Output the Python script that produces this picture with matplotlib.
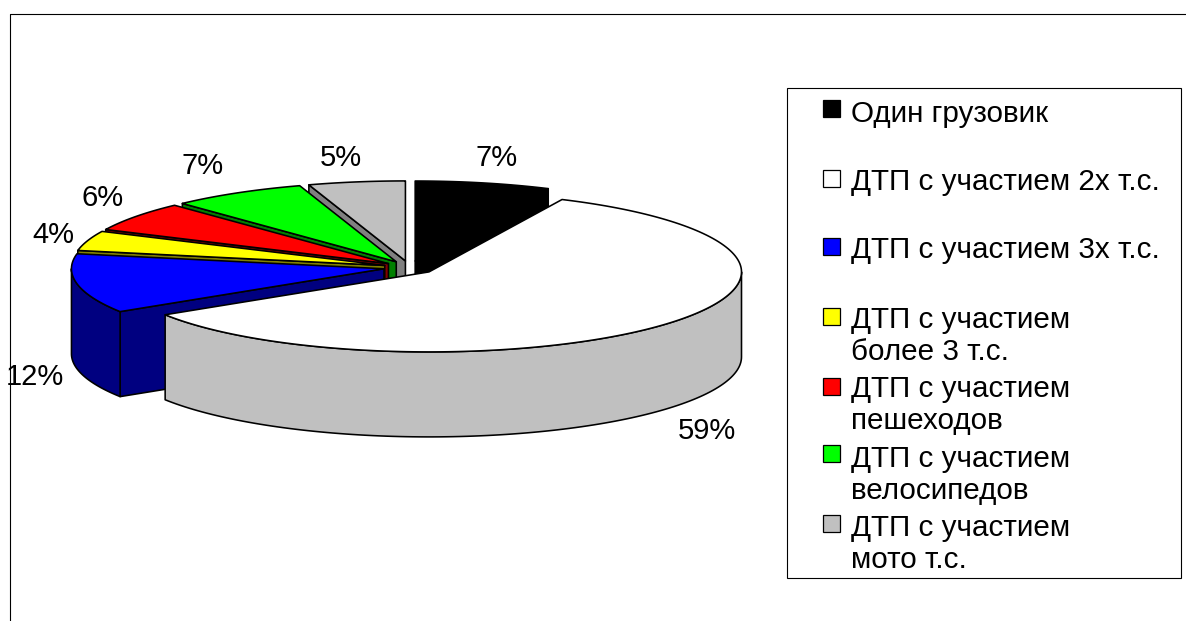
# -*- coding: utf-8 -*-
import numpy as np
import matplotlib
matplotlib.use('Agg')
import matplotlib.pyplot as plt
from matplotlib.patches import Polygon, Rectangle

plt.rcParams['font.family'] = ['Liberation Sans', 'DejaVu Sans']

# data
labels = ['Один грузовик', 'ДТП с участием 2х т.с.', 'ДТП с участием 3х т.с.',
          'ДТП с участием\nболее 3 т.с.', 'ДТП с участием\nпешеходов',
          'ДТП с участием\nвелосипедов', 'ДТП с участием\nмото т.с.']
values = [7, 59, 12, 4, 6, 7, 5]
top_colors = ['#000000', '#ffffff', '#0000ff', '#ffff00', '#ff0000', '#00ff00', '#c0c0c0']
side_colors = ['#000000', '#c0c0c0', '#000080', '#808000', '#800000', '#008000', '#808080']

# pie geometry, in pixels
CX, CY = 409.5, 267.5
RX, RY = 312.5, 80.0
DEPTH = 85.0
EXPLODE = 26.0 / RX   # fraction of the radius

# percent label centres, in pixels
pct_pos = [(497, 158), (707, 431), (35, 377), (53, 235), (103, 198), (203, 166), (341, 158)]
legend_y = [100, 170, 238, 308, 378, 445, 515]
legend_text_y = [100, 168, 236, 306, 375, 445, 514]
legend_box = (787, 88, 394, 490)


def pt(ax0, ay0, deg):
	t = np.radians(deg)
	return ax0 + RX * np.sin(t), ay0 - RY * np.cos(t)


def draw_slice(ax, start, end, top, side, z):
	mid = np.radians((start + end) / 2.0)
	ax0 = CX + EXPLODE * RX * np.sin(mid)
	ay0 = CY - EXPLODE * RY * np.cos(mid)
	kw = dict(edgecolor='black', linewidth=1.15, joinstyle='round', zorder=z)

	# cut faces, skipped when they look away from the viewer
	for deg, sign in ((start, -1), (end, 1)):
		if np.sin(np.radians(deg)) * sign <= 0:
			continue
		x, y = pt(ax0, ay0, deg)
		quad = [(ax0, ay0), (x, y), (x, y + DEPTH), (ax0, ay0 + DEPTH)]
		ax.add_patch(Polygon(quad, facecolor=side, **kw))

	# outer wall, only the part turned to the viewer
	a = max(start, 90)
	b = min(end, 270)
	if b > a:
		degs = np.linspace(a, b, 120)
		xs, ys = pt(ax0, ay0, degs)
		wall = np.r_[np.c_[xs, ys], np.c_[xs, ys + DEPTH][::-1]]
		ax.add_patch(Polygon(wall, facecolor=side, **kw))

	# top face
	degs = np.linspace(start, end, 160)
	xs, ys = pt(ax0, ay0, degs)
	face = np.r_[[(ax0, ay0)], np.c_[xs, ys]]
	ax.add_patch(Polygon(face, facecolor=top, **kw))
	return ay0


fig = plt.figure(figsize=(11.86, 6.21), dpi=100)
ax = fig.add_axes([0, 0, 1, 1])
ax.set_xlim(0, 1186)
ax.set_ylim(621, 0)
ax.axis('off')

# chart frame, only top and left are in view
ax.plot([10, 10, 1186], [621, 14, 14], color='black', linewidth=0.8, zorder=1)

# slices run clockwise from 12 o'clock, painted back to front
edges = np.r_[0, np.cumsum(values)] * 360.0 / sum(values)
order = sorted(range(len(values)),
	key=lambda i: -np.cos(np.radians((edges[i] + edges[i + 1]) / 2.0)))
for n, i in enumerate(order):
	draw_slice(ax, edges[i], edges[i + 1], top_colors[i], side_colors[i], 2 + n)

for v, (x, y) in zip(values, pct_pos):
	ax.text(x, y, '%d%%' % v, fontsize=21, color='black', ha='center', va='center', zorder=20)

# legend
bx, by, bw, bh = legend_box
ax.add_patch(Rectangle((bx, by), bw, bh, facecolor='white', edgecolor='black', linewidth=0.8, zorder=20))
for name, col, y, ty in zip(labels, top_colors, legend_y, legend_text_y):
	ax.add_patch(Rectangle((823, y), 17, 17, facecolor=col, edgecolor='black', linewidth=0.9, zorder=21))
	ax.text(851, ty, name, fontsize=21.3, color='black', ha='left', va='top',
		linespacing=1.16, zorder=21)

fig.savefig('out.png', dpi=100, facecolor='white')
